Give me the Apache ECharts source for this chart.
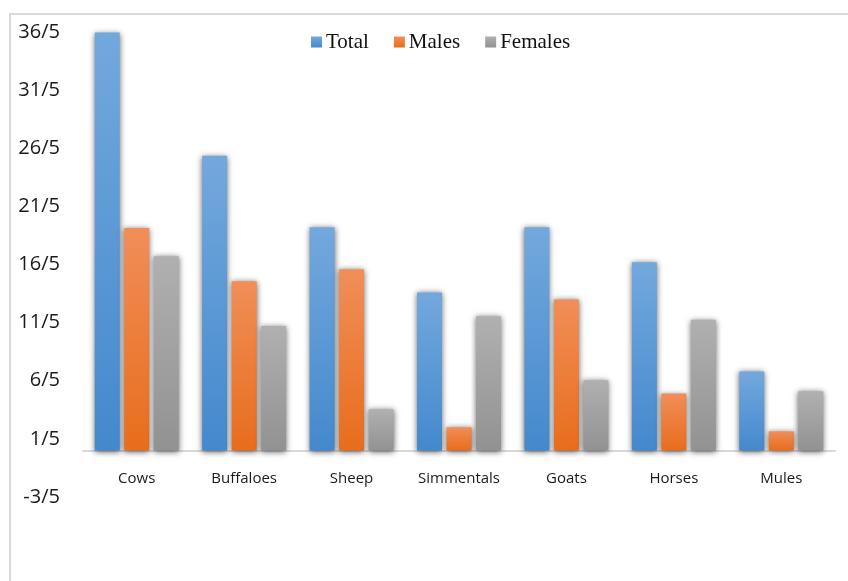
<!DOCTYPE html>
<html>
<head>
<meta charset="utf-8">
<script src="https://cdn.jsdelivr.net/npm/echarts@6/dist/echarts.min.js"></script>
<style>
html,body{margin:0;padding:0;background:#fff;}
#chart{width:848px;height:581px;}
</style>
</head>
<body>
<div id="chart"></div>
<script>
const categories = ['Cows', 'Buffaloes', 'Sheep', 'Simmentals', 'Goats', 'Horses', 'Mules'];
const totalValues = [7.19, 5.07, 3.84, 2.72, 3.84, 3.24, 1.36];
const maleValues = [3.83, 2.91, 3.12, 0.40, 2.60, 0.98, 0.33];
const femaleValues = [3.34, 2.14, 0.71, 2.31, 1.21, 2.25, 1.02];
const seriesNames = ['Total', 'Males', 'Females'];
const yTickLabels = ['-3/5', '1/5', '6/5', '11/5', '16/5', '21/5', '26/5', '31/5', '36/5'];

const chart = echarts.init(document.getElementById('chart'), null, { renderer: 'canvas' });

function grad(top, bottom) {
  return new echarts.graphic.LinearGradient(0, 0, 0, 1, [
    { offset: 0, color: top },
    { offset: 1, color: bottom }
  ]);
}

function barSeries(name, data, top, bottom) {
  return {
    name: name,
    type: 'bar',
    data: data,
    barWidth: 25,
    barGap: '18%',
    itemStyle: {
      color: grad(top, bottom),
      shadowBlur: 6,
      shadowColor: 'rgba(0,0,0,0.6)',
      shadowOffsetX: 0,
      shadowOffsetY: 1
    }
  };
}

const option = {
  backgroundColor: '#ffffff',
  animation: false,
  graphic: [{
    type: 'rect',
    shape: { x: 10, y: 14, width: 860, height: 600 },
    style: { fill: 'none', stroke: '#d9d9d9', lineWidth: 2 },
    silent: true,
    z: -10
  }],
  legend: {
    data: seriesNames,
    left: 311,
    top: 31,
    padding: 0,
    itemWidth: 11,
    itemHeight: 11,
    itemGap: 25,
    icon: 'rect',
    textStyle: {
      fontFamily: 'Liberation Serif',
      fontSize: 21,
      lineHeight: 22,
      color: '#111111',
      padding: [0, 0, 0, -1]
    }
  },
  grid: {
    left: 83,
    right: 13,
    top: 32,
    bottom: 84,
    containLabel: false
  },
  xAxis: {
    type: 'category',
    data: categories,
    offset: -46,
    axisLine: { onZero: false, lineStyle: { color: '#d9d9d9', width: 2 } },
    axisTick: { show: false },
    axisLabel: {
      margin: 20,
      fontFamily: 'Open Sans',
      fontSize: 15,
      color: '#1a1a1a'
    },
    splitLine: { show: false }
  },
  yAxis: {
    type: 'value',
    min: -0.8,
    max: 7.2,
    interval: 1,
    axisLine: { show: false },
    axisTick: { show: false },
    splitLine: { show: false },
    axisLabel: {
      margin: 23,
      fontFamily: 'Open Sans',
      fontSize: 20,
      color: '#1a1a1a',
      formatter: function (v) {
        const i = Math.round(v + 0.8);
        return yTickLabels[i] !== undefined ? yTickLabels[i] : '';
      }
    }
  },
  series: [
    barSeries(seriesNames[0], totalValues, '#73a8dd', '#4489cd'),
    barSeries(seriesNames[1], maleValues, '#f18e58', '#e86d1c'),
    barSeries(seriesNames[2], femaleValues, '#b0b0b0', '#929292')
  ]
};

chart.setOption(option);
</script>
</body>
</html>
